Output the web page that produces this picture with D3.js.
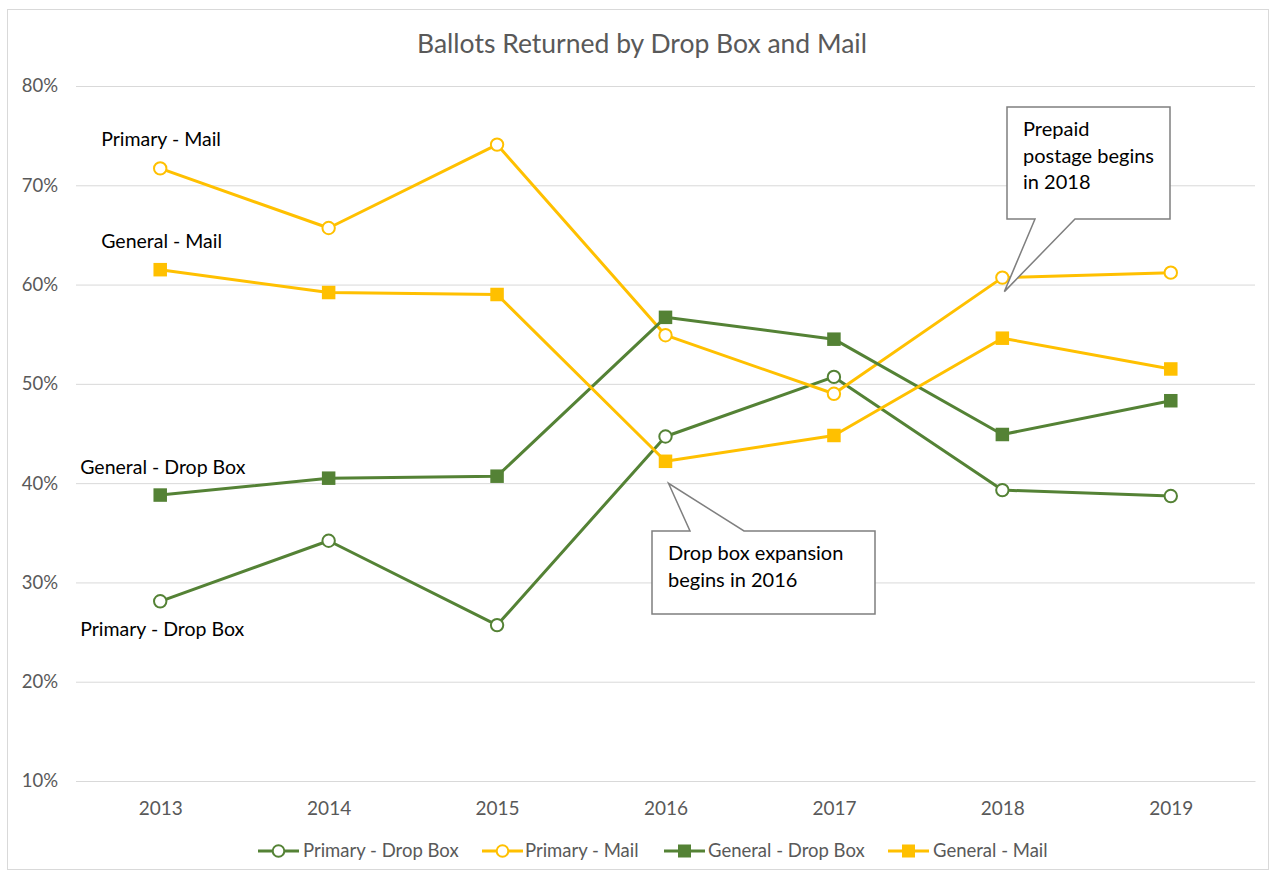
<!DOCTYPE html>
<html>
<head>
<meta charset="utf-8">
<script src="https://cdn.jsdelivr.net/npm/d3@7"></script>
<style>
  html, body { margin: 0; padding: 0; background: #fff; }
  svg { display: block; font-family: Lato, "Open Sans", sans-serif; }
</style>
</head>
<body>
<svg id="chart"></svg>
<script>
// Data
const years = ["2013", "2014", "2015", "2016", "2017", "2018", "2019"];
const primaryDropBox = [28.1, 34.2, 25.7, 44.7, 50.7, 39.3, 38.7];
const primaryMail = [71.7, 65.7, 74.1, 54.9, 49.0, 60.7, 61.2];
const generalDropBox = [38.8, 40.5, 40.7, 56.7, 54.5, 44.9, 48.3];
const generalMail = [61.5, 59.2, 59.0, 42.2, 44.8, 54.6, 51.5];
const yTicks = [10, 20, 30, 40, 50, 60, 70, 80];

const green = "#548235";
const gold = "#FFC000";

const series = [
  { name: "Primary - Drop Box", values: primaryDropBox, color: green, marker: "circle" },
  { name: "Primary - Mail", values: primaryMail, color: gold, marker: "circle" },
  { name: "General - Drop Box", values: generalDropBox, color: green, marker: "square" },
  { name: "General - Mail", values: generalMail, color: gold, marker: "square" }
];

const width = 1276;
const height = 875;
const marginLeft = 76;
const marginRight = 21;
const marginTop = 86;
const plotBottom = 781;

const svg = d3.select("#chart")
  .attr("width", width)
  .attr("height", height)
  .attr("viewBox", [0, 0, width, height]);

// Outer chart border
svg.append("rect")
  .attr("x", 7.5).attr("y", 9.5)
  .attr("width", 1261).attr("height", 860)
  .attr("fill", "#fff")
  .attr("stroke", "#d9d9d9");

const x = d3.scalePoint()
  .domain(years)
  .range([marginLeft, width - marginRight])
  .padding(0.5);

const y = d3.scaleLinear()
  .domain([10, 80])
  .range([plotBottom, marginTop]);

// Title
svg.append("text")
  .attr("x", 642)
  .attr("y", 53)
  .attr("text-anchor", "middle")
  .attr("fill", "#595959")
  .style("font-size", "26.5px")
  .text("Ballots Returned by Drop Box and Mail");

// Gridlines + y labels
const yAxis = svg.append("g")
  .attr("transform", `translate(${marginLeft},0)`)
  .call(d3.axisLeft(y)
    .tickValues(yTicks)
    .tickSize(-(width - marginLeft - marginRight))
    .tickPadding(18)
    .tickFormat(d => d + "%"));
yAxis.select(".domain").remove();
yAxis.selectAll(".tick line").attr("stroke", "#d9d9d9").attr("stroke-width", 1);
yAxis.selectAll(".tick text")
  .attr("fill", "#595959")
  .style("font-size", "18.5px")
  .style("font-family", "Lato, sans-serif");

// X axis labels
const xAxis = svg.append("g")
  .attr("transform", `translate(0,${plotBottom})`)
  .call(d3.axisBottom(x).tickSize(0).tickPadding(21));
xAxis.select(".domain").attr("stroke", "#d9d9d9");
xAxis.selectAll(".tick text")
  .attr("fill", "#595959")
  .style("font-size", "19px")
  .style("font-family", "Lato, sans-serif");

// Lines
const line = d3.line()
  .x((d, i) => x(years[i]))
  .y(d => y(d));

const seriesG = svg.append("g");
series.forEach(s => {
  const g = seriesG.append("g");
  g.append("path")
    .datum(s.values)
    .attr("fill", "none")
    .attr("stroke", s.color)
    .attr("stroke-width", 3)
    .attr("stroke-linejoin", "round")
    .attr("d", line);
  if (s.marker === "circle") {
    g.selectAll("circle")
      .data(s.values)
      .join("circle")
      .attr("cx", (d, i) => x(years[i]))
      .attr("cy", d => y(d))
      .attr("r", 6.2)
      .attr("fill", "#fff")
      .attr("stroke", s.color)
      .attr("stroke-width", 2);
  } else {
    g.selectAll("rect")
      .data(s.values)
      .join("rect")
      .attr("x", (d, i) => x(years[i]) - 6.75)
      .attr("y", d => y(d) - 6.75)
      .attr("width", 13.5)
      .attr("height", 13.5)
      .attr("fill", s.color);
  }
});

// Series labels placed by the 2013 point
const seriesLabels = [
  { text: "Primary - Mail", value: primaryMail[0], dx: -59, dy: -22 },
  { text: "General - Mail", value: generalMail[0], dx: -59, dy: -22 },
  { text: "General - Drop Box", value: generalDropBox[0], dx: -80, dy: -21 },
  { text: "Primary - Drop Box", value: primaryDropBox[0], dx: -80, dy: 35 }
];
svg.append("g")
  .selectAll("text")
  .data(seriesLabels)
  .join("text")
  .attr("x", d => x(years[0]) + d.dx)
  .attr("y", d => y(d.value) + d.dy)
  .attr("fill", "#000")
  .style("font-size", "19.5px")
  .text(d => d.text);

// Callouts
function callout(box, tip, base, lines) {
  const [bx, by, bw, bh] = box;
  let pts;
  if (tip[1] < by) {
    // tail on top edge
    pts = [[bx, by], [base[0], by], tip, [base[1], by], [bx + bw, by], [bx + bw, by + bh], [bx, by + bh]];
  } else {
    // tail on bottom edge
    pts = [[bx, by], [bx + bw, by], [bx + bw, by + bh], [base[1], by + bh], tip, [base[0], by + bh], [bx, by + bh]];
  }
  svg.append("path")
    .attr("d", "M" + pts.map(p => p.join(",")).join("L") + "Z")
    .attr("fill", "#fff")
    .attr("stroke", "#7f7f7f")
    .attr("stroke-width", 1.5);
  const t = svg.append("text")
    .attr("fill", "#000")
    .style("font-size", "20px");
  lines.forEach((l, i) => {
    t.append("tspan")
      .attr("x", bx + 16)
      .attr("y", by + 29 + i * 26.5)
      .text(l);
  });
}

const x2016 = x("2016");
const tip2016 = [x2016 + 3, y(generalMail[3]) + 22];
callout([652, 531, 223, 83], tip2016, [690, 744], ["Drop box expansion", "begins in 2016"]);

const x2018 = x("2018");
const tip2018 = [x2018 + 2, y(primaryMail[5]) + 14];
callout([1007, 107, 163, 112], tip2018, [1035, 1075], ["Prepaid", "postage begins", "in 2018"]);

// Legend
const legendItems = [
  { s: series[0], lx: 258, tx: 303 },
  { s: series[1], lx: 482, tx: 525 },
  { s: series[2], lx: 664, tx: 708 },
  { s: series[3], lx: 888, tx: 933 }
];
const legend = svg.append("g").attr("transform", "translate(0,851)");
legendItems.forEach(it => {
  const g = legend.append("g");
  g.append("line")
    .attr("x1", it.lx).attr("x2", it.lx + 41)
    .attr("y1", 0).attr("y2", 0)
    .attr("stroke", it.s.color)
    .attr("stroke-width", 3);
  if (it.s.marker === "circle") {
    g.append("circle")
      .attr("cx", it.lx + 20.5).attr("cy", 0).attr("r", 5.8)
      .attr("fill", "#fff").attr("stroke", it.s.color).attr("stroke-width", 2);
  } else {
    g.append("rect")
      .attr("x", it.lx + 14).attr("y", -6.5).attr("width", 13).attr("height", 13)
      .attr("fill", it.s.color);
  }
  g.append("text")
    .attr("x", it.tx)
    .attr("y", 0)
    .attr("dy", "0.35em")
    .attr("fill", "#595959")
    .style("font-size", "18.5px")
    .text(it.s.name);
});
</script>
</body>
</html>
